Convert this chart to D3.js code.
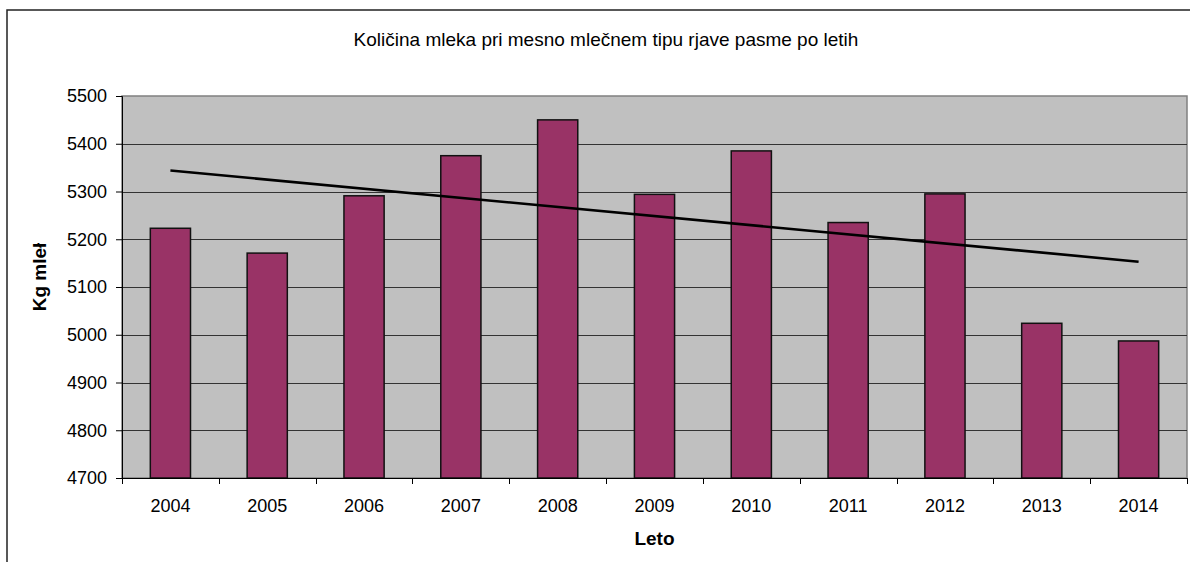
<!DOCTYPE html>
<html lang="sl">
<head>
<meta charset="UTF-8">
<title>Količina mleka</title>
<script src="https://cdn.jsdelivr.net/npm/d3@7/dist/d3.min.js"></script>
<style>
    body { margin: 0; background: #fff; }
    svg { display: block; font-family: "Liberation Sans", Arial, sans-serif; }
    .axis text { font-size: 18px; fill: #000; }
</style>
</head>
<body>
<svg width="1190" height="562"></svg>
<script>
// podatki
var years = ["2004", "2005", "2006", "2007", "2008", "2009", "2010", "2011", "2012", "2013", "2014"];
var milk = [5223, 5171, 5291, 5375, 5450, 5294, 5385, 5235, 5295, 5024, 4987];
var trendEnds = [5344, 5153]; // linearni trend, prvo in zadnje leto
var yTicks = [4700, 4800, 4900, 5000, 5100, 5200, 5300, 5400, 5500];

var svg = d3.select("svg");
var pLeft = 122, pRight = 1187, pTop = 96, pBottom = 478;

// okvir grafikona (odrezan na desni in spodaj)
svg.append("rect")
    .attr("x", 7).attr("y", 10)
    .attr("width", 1300).attr("height", 700)
    .attr("fill", "#fff")
    .attr("stroke", "#222")
    .attr("stroke-width", 1.5);

var x = d3.scaleBand().domain(years).range([pLeft, pRight]).padding(0);
var y = d3.scaleLinear().domain([4700, 5500]).range([pBottom, pTop]);
var barW = x.bandwidth() * 0.415;

// ozadje
svg.append("rect")
    .attr("x", pLeft).attr("y", pTop)
    .attr("width", pRight - pLeft).attr("height", pBottom - pTop)
    .attr("fill", "#c0c0c0")
    .attr("stroke", "#808080")
    .attr("stroke-width", 1.5);

// mreža
svg.append("g")
    .selectAll("line")
    .data(yTicks.slice(1, -1))
    .enter().append("line")
    .attr("x1", pLeft).attr("x2", pRight)
    .attr("y1", function (d) { return Math.round(y(d)) + 0.5; })
    .attr("y2", function (d) { return Math.round(y(d)) + 0.5; })
    .attr("stroke", "#333")
    .attr("stroke-width", 1.2);

// stolpci
svg.append("g")
    .selectAll("rect")
    .data(milk)
    .enter().append("rect")
    .attr("x", function (d, i) { return x(years[i]) + (x.bandwidth() - barW) / 2; })
    .attr("y", function (d) { return y(d); })
    .attr("width", barW)
    .attr("height", function (d) { return pBottom - y(d); })
    .attr("fill", "#993366")
    .attr("stroke", "#111")
    .attr("stroke-width", 1.5);

// trend
var first = years[0], last = years[years.length - 1];
svg.append("line")
    .attr("x1", x(first) + x.bandwidth() / 2)
    .attr("y1", y(trendEnds[0]))
    .attr("x2", x(last) + x.bandwidth() / 2)
    .attr("y2", y(trendEnds[1]))
    .attr("stroke", "#000")
    .attr("stroke-width", 2.6);

// osi
var yAxis = d3.axisLeft(y).tickValues(yTicks).tickSize(6).tickPadding(9).tickFormat(d3.format("d"));
svg.append("g")
    .attr("class", "axis")
    .attr("transform", "translate(" + pLeft + ",0)")
    .call(yAxis)
    .call(function (g) { g.select(".domain").attr("stroke", "#000"); });

var xAxis = d3.axisBottom(x).tickSize(0).tickPadding(21);
var gx = svg.append("g")
    .attr("class", "axis")
    .attr("transform", "translate(0," + pBottom + ")")
    .call(xAxis);
gx.select(".domain").attr("stroke", "#000");
// oznake med kategorijami
gx.selectAll(".sep")
    .data(years.concat(["end"]))
    .enter().append("line")
    .attr("x1", function (d, i) { return Math.round(pLeft + i * x.step()) + 0.5; })
    .attr("x2", function (d, i) { return Math.round(pLeft + i * x.step()) + 0.5; })
    .attr("y1", 0).attr("y2", 6)
    .attr("stroke", "#000");

// naslovi
svg.append("text")
    .attr("x", 606).attr("y", 46)
    .attr("text-anchor", "middle")
    .style("font-size", "19px")
    .text("Količina mleka pri mesno mlečnem tipu rjave pasme po letih");

svg.append("text")
    .attr("x", (pLeft + pRight) / 2).attr("y", 545)
    .attr("text-anchor", "middle")
    .style("font-size", "19px")
    .style("font-weight", "bold")
    .text("Leto");

svg.append("text")
    .attr("transform", "translate(46,277) rotate(-90)")
    .attr("text-anchor", "middle")
    .style("font-size", "19px")
    .style("font-weight", "bold")
    .text("Kg mleł");
</script>
</body>
</html>
